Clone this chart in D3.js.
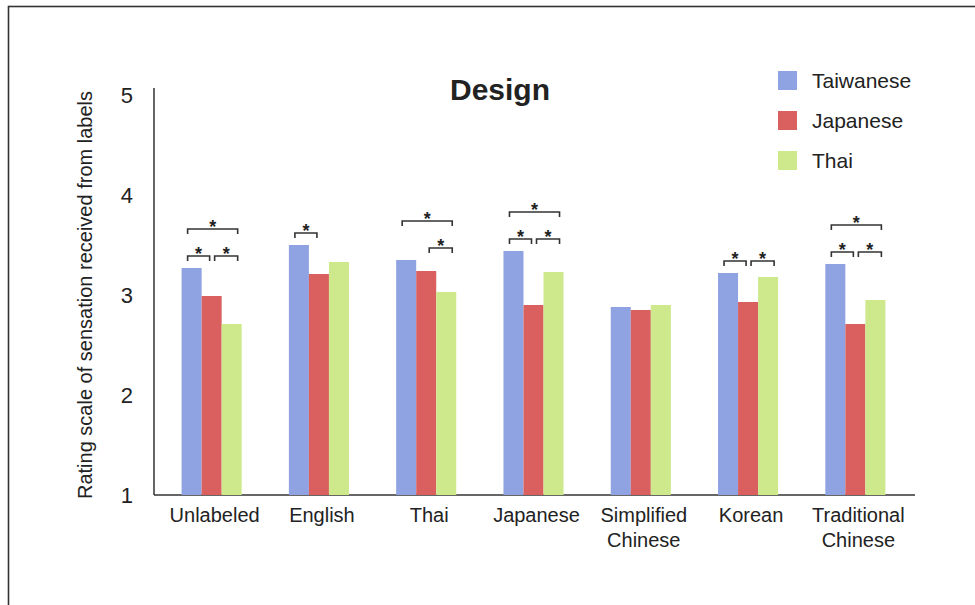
<!DOCTYPE html>
<HTML>
<HEAD>
<TITLE>Design rating</TITLE>
<STYLE>
body { margin: 0; background: #fff; }
text { font-family: "Liberation Sans", Arial, Helvetica, sans-serif; fill: #222; }
</STYLE>
<SCRIPT type="text/javascript" src="https://d3js.org/d3.v7.min.js"></SCRIPT>
</HEAD>
<BODY>
<svg id="chart" width="975" height="605"></svg>
<SCRIPT type="text/javascript">
// label types along the x axis
const categories = ["Unlabeled", "English", "Thai", "Japanese", "Simplified Chinese", "Korean", "Traditional Chinese"];
const groups = ["Taiwanese", "Japanese", "Thai"];

// mean ratings
const taiwanese = [3.27, 3.50, 3.35, 3.44, 2.88, 3.22, 3.31];
const japanese  = [2.99, 3.21, 3.24, 2.90, 2.85, 2.93, 2.71];
const thai      = [2.71, 3.33, 3.03, 3.23, 2.90, 3.18, 2.95];

const yTicks = [1, 2, 3, 4, 5];

// significant pairs: [category index, group a, group b, bracket level]
const sigPairs = [
    [0, 0, 1, 0], [0, 1, 2, 0], [0, 0, 2, 1],
    [1, 0, 1, 0],
    [2, 1, 2, 0], [2, 0, 2, 1],
    [3, 0, 1, 0], [3, 1, 2, 0], [3, 0, 2, 1],
    [5, 0, 1, 0], [5, 1, 2, 0],
    [6, 0, 1, 0], [6, 1, 2, 0], [6, 0, 2, 1]
];

const colors = ["#8fa2e2", "#d9605f", "#cde98c"];
const series = [taiwanese, japanese, thai];

const svg = d3.select("#chart");

// outer frame of the figure
svg.append("rect")
   .attr("x", 8.5)
   .attr("y", 6.5)
   .attr("width", 1000)
   .attr("height", 700)
   .style("fill", "none")
   .style("stroke", "#333")
   .style("stroke-width", 1.6);

const xScale = d3.scaleBand()
                 .domain(categories)
                 .range([158, 909])
                 .paddingInner(0.44)
                 .paddingOuter(0.22);

const xInner = d3.scaleBand()
                 .domain(d3.range(groups.length))
                 .range([0, xScale.bandwidth()]);

const yScale = d3.scaleLinear()
                 .domain([1, 5])
                 .range([495, 95]);

const yAxis = d3.axisLeft(yScale)
                .tickValues(yTicks)
                .tickSize(0)
                .tickPadding(21)
                .tickFormat(d3.format("d"));

const yG = svg.append("g")
              .attr("transform", "translate(154, 0)")
              .call(yAxis);
yG.select(".domain").style("stroke", "#333").style("stroke-width", 1.5)
  .attr("d", `M0,${yScale(5) - 7}V${yScale(1)}`);
yG.selectAll("text").style("font-size", "22px").style("fill", "#222");

const xAxis = d3.axisBottom(xScale)
                .tickSize(0)
                .tickPadding(13);

const xG = svg.append("g")
              .attr("transform", `translate(0, ${yScale(1)})`)
              .call(xAxis);
xG.select(".domain").style("stroke", "#333").style("stroke-width", 1.5)
  .attr("d", "M154,0H915");
xG.selectAll("text")
  .style("font-size", "20px")
  .style("fill", "#222")
  .each(function(d) {
      const words = d.split(" ");
      const t = d3.select(this).text(null);
      words.forEach((w, i) => {
          t.append("tspan")
           .attr("x", 3)
           .attr("dy", i === 0 ? "0.71em" : "1.25em")
           .text(w);
      });
  });

// bars
const barG = svg.append("g");
series.forEach((vals, s) => {
    barG.selectAll(null)
        .data(vals)
        .join("rect")
        .attr("x", (d, i) => xScale(categories[i]) + xInner(s))
        .attr("y", d => yScale(d))
        .attr("width", xInner.bandwidth())
        .attr("height", d => yScale(1) - yScale(d))
        .style("fill", colors[s]);
});

// significance brackets
const leftOff = [-4, 3, 0];
const rightOff = [0, -2, 6];
const brG = svg.append("g");
sigPairs.forEach(([c, a, b, level]) => {
    const gx = xScale(categories[c]);
    const top = d3.max(series, v => v[c]);
    const yLine = yScale(top) - 12 - level * 27;
    const x1 = gx + xInner(a) + xInner.bandwidth() / 2 + leftOff[a];
    const x2 = gx + xInner(b) + xInner.bandwidth() / 2 + rightOff[b];
    brG.append("path")
       .attr("d", `M${x1},${yLine + 5}V${yLine}H${x2}V${yLine + 5}`)
       .style("fill", "none")
       .style("stroke", "#333")
       .style("stroke-width", 1.6);
    brG.append("text")
       .attr("x", (x1 + x2) / 2)
       .attr("y", yLine + 4)
       .attr("text-anchor", "middle")
       .style("font-size", "18px")
       .style("font-weight", "bold")
       .text("*");
});

// title
svg.append("text")
   .attr("x", 500)
   .attr("y", 100)
   .attr("text-anchor", "middle")
   .style("font-size", "30px")
   .style("font-weight", "bold")
   .text("Design");

// y axis title
svg.append("text")
   .attr("transform", `translate(92, ${(yScale(1) + yScale(5)) / 2}) rotate(-90)`)
   .attr("text-anchor", "middle")
   .style("font-size", "20px")
   .text("Rating scale of sensation received from labels");

// legend
const legend = svg.append("g")
                  .attr("transform", "translate(778, 71)");
groups.forEach((g, i) => {
    legend.append("rect")
          .attr("x", 0)
          .attr("y", i * 40)
          .attr("width", 19)
          .attr("height", 19)
          .style("fill", colors[i]);
    legend.append("text")
          .attr("x", 34)
          .attr("y", i * 40 + 17)
          .style("font-size", "21px")
          .text(g);
});
</SCRIPT>
</BODY>
</HTML>
